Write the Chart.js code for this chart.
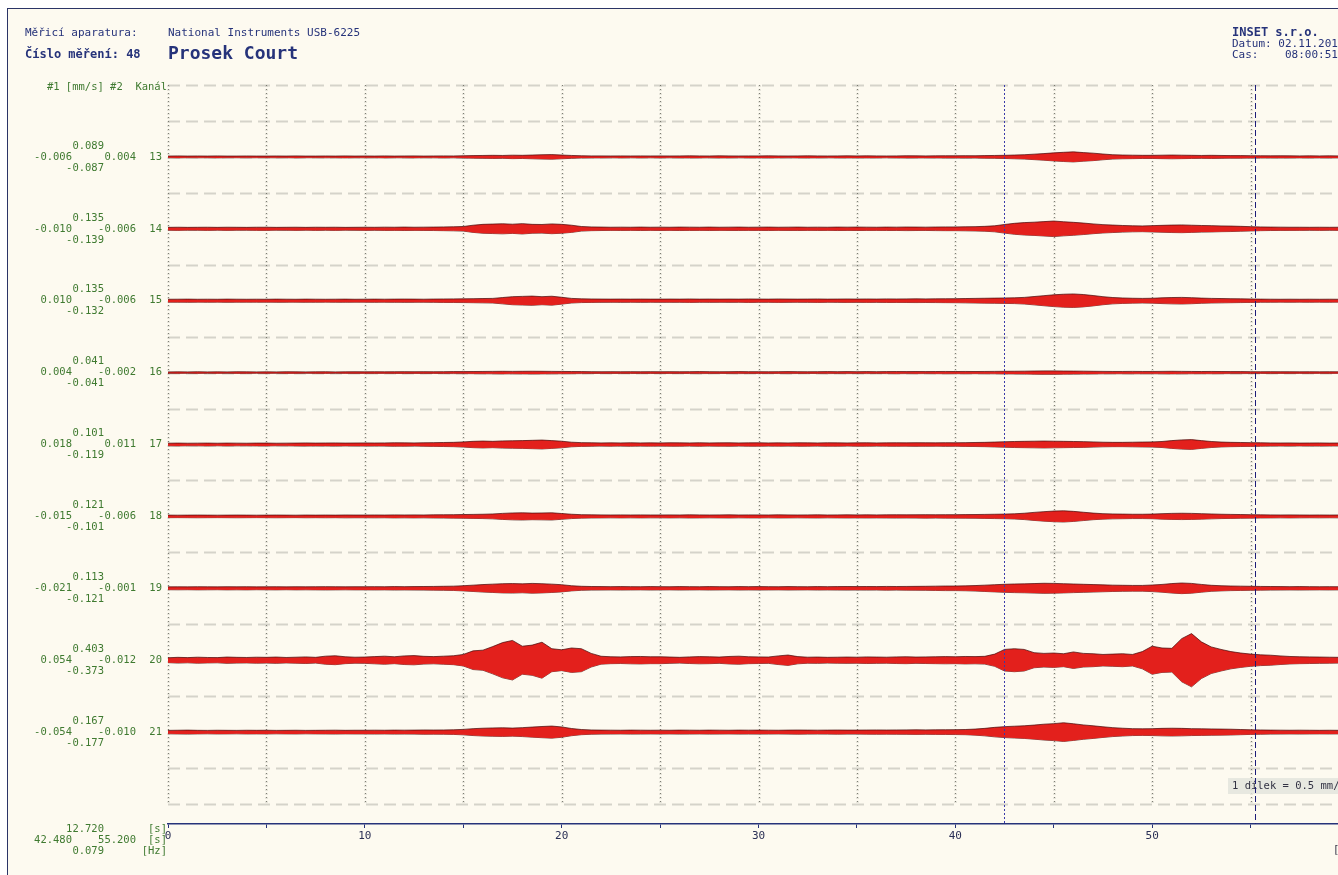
<!DOCTYPE html>
<html lang="cs">
<head>
<meta charset="utf-8">
<title>Prosek Court</title>
<script src="https://cdn.jsdelivr.net/npm/chart.js@4"></script>
<style>
  html, body { margin: 0; padding: 0; background: #fff; overflow: hidden; width: 1338px; height: 875px; }
  #sheet { position: absolute; left: 7px; top: 8px; width: 1400px; height: 900px; background: #fdfaf0;
           border-left: 1px solid #2b3466; border-top: 1px solid #2b3466; }
  #plot { position: absolute; left: 0; top: 0; }
  .t { position: absolute; white-space: pre; font-family: "DejaVu Sans Mono", monospace; font-size: 11px;
       line-height: 12px; color: #26337a; }
</style>
</head>
<body>
<div id="sheet"></div>
<canvas id="plot" width="1380" height="875"></canvas>

<div class="t" style="left:25px; top:27px;">Měřicí aparatura:</div>
<div class="t" style="left:168px; top:27px;">National Instruments USB-6225</div>
<div class="t" style="left:25px; top:48px; font-weight:bold; font-size:12px;">Číslo měření: 48</div>
<div class="t" style="left:168px; top:43px; font-weight:bold; font-size:18px; line-height:20px;">Prosek Court</div>
<div class="t" style="left:1232px; top:26px; font-weight:bold; font-size:12px;">INSET s.r.o.</div>
<div class="t" style="left:1232px; top:38px;">Datum: 02.11.2012</div>
<div class="t" style="left:1232px; top:49px;">Cas:    08:00:51</div>

<script>
// channel layout
const channels = [13, 14, 15, 16, 17, 18, 19, 20, 21];
const divisionMmS = 0.5;      // 1 dílek = 0.5 mm/s
const binStep = 0.5;          // s, envelope bins
const xMin = 0, xMax = 60;

// cursor readings
const cursorA = 42.48, cursorB = 55.2;
const cursorDiff = 12.72, cursorFreq = 0.079;

// per-channel statistics [mm/s]
const statMax    = [0.089, 0.135, 0.135, 0.041, 0.101, 0.121, 0.113, 0.403, 0.167];
const statFirst  = [-0.006, -0.010, 0.010, 0.004, 0.018, -0.015, -0.021, 0.054, -0.054];
const statSecond = [0.004, -0.006, -0.006, -0.002, 0.011, -0.006, -0.001, -0.012, -0.010];
const statMin    = [-0.087, -0.139, -0.132, -0.041, -0.119, -0.101, -0.121, -0.373, -0.177];

// signal envelope, 0.001 mm/s, one value per 0.5 s starting at 0 s
const amp13 = [
  12,14,12,13,12,14,12,12,13,12, 12,13,12,14,12,12,13,12,14,12,
  13,12,14,12,13,14,12,13,14,13, 16,18,20,22,20,24,22,26,30,32,
  26,20,16,14,14,13,14,13,14,13, 14,13,14,15,14,13,15,14,13,14,
  14,15,14,13,14,15,14,13,14,15, 14,15,14,13,14,16,15,14,15,16,
  16,17,16,18,20,22,26,30,38,46, 56,64,70,60,52,40,30,26,24,22,
  22,24,26,24,22,20,22,20,18,18, 17,16,15,16,15,14,15,14,15,14];
const amp14 = [
  20,22,20,21,22,20,22,21,20,22, 22,20,21,22,20,22,21,22,20,21,
  22,21,23,22,24,22,23,24,26,28, 32,50,62,66,70,64,72,62,60,68,
  62,50,32,26,24,22,23,22,24,22, 23,22,24,23,22,24,22,23,24,22,
  23,24,22,23,24,22,23,22,24,23, 24,23,22,24,23,25,24,23,25,26,
  26,28,30,34,42,60,76,86,92,100, 108,98,90,80,68,58,52,46,42,40,
  44,48,52,54,50,46,44,40,38,34, 30,26,24,23,22,22,21,22,21,22];
const amp15 = [
  20,21,22,20,21,20,22,21,20,21, 20,22,21,20,22,21,20,21,22,20,
  21,22,21,22,23,22,21,23,24,25, 26,28,30,32,44,56,60,64,56,62,
  48,32,26,24,23,22,23,22,23,22, 22,23,22,24,22,23,22,23,22,24,
  23,22,24,23,22,23,24,22,23,24, 23,24,23,25,24,25,26,25,26,27,
  28,30,32,34,36,38,40,46,58,70, 82,90,94,86,72,56,44,38,34,32,
  34,40,44,46,42,36,32,30,28,26, 24,22,21,20,21,20,21,20,21,20];
const amp16 = [
  10,11,10,12,10,11,10,12,11,10, 11,10,12,11,10,11,12,10,11,12,
  11,12,11,12,13,12,13,12,13,14, 14,15,16,17,18,17,18,19,18,17,
  16,15,14,13,12,13,12,13,12,13, 12,13,12,13,14,13,12,13,14,13,
  13,12,13,14,13,12,13,14,13,14, 13,14,13,14,15,14,15,14,15,16,
  15,16,15,16,17,18,19,20,22,24, 24,22,21,20,18,17,16,16,17,16,
  16,17,18,17,16,15,16,15,14,14, 13,12,13,12,12,11,12,11,12,11];
const amp17 = [
  18,20,18,19,20,18,20,19,18,20, 20,18,19,20,22,20,21,22,20,21,
  22,21,22,24,23,22,24,26,28,30, 36,44,48,44,50,52,54,58,62,54,
  46,32,26,24,22,23,22,24,22,23, 22,24,23,22,24,22,23,24,22,23,
  24,22,23,22,24,23,22,24,23,22, 23,24,22,23,24,23,25,24,23,25,
  24,26,28,30,34,38,42,44,46,48, 46,44,42,40,36,32,30,30,32,34,
  36,42,54,64,68,54,42,34,30,28, 26,24,22,21,22,20,21,22,20,21];
const amp18 = [
  18,17,18,19,18,17,18,19,18,17, 18,19,18,17,19,18,19,18,20,19,
  19,20,19,21,20,21,20,22,23,24, 26,28,30,34,42,48,50,46,48,50,
  40,30,24,22,21,20,21,20,21,20, 20,21,20,22,21,20,21,22,20,21,
  21,20,22,21,20,21,22,20,21,22, 21,22,21,22,23,22,23,24,23,24,
  24,25,26,28,30,32,36,44,56,66, 74,78,70,58,46,38,34,32,30,30,
  32,38,42,44,42,38,34,30,28,26, 24,22,21,20,21,20,19,20,19,20];
const amp19 = [
  20,21,20,22,21,20,22,21,22,20, 21,22,20,22,21,22,23,22,21,22,
  22,23,22,24,23,24,25,26,28,30, 36,44,52,58,64,66,62,68,64,58,
  50,36,28,25,24,23,24,23,22,24, 23,22,24,23,22,24,23,22,24,23,
  24,23,22,24,23,22,24,23,24,25, 24,25,24,26,25,26,27,28,30,32,
  32,34,38,44,50,56,60,62,66,70, 68,64,60,56,52,48,44,42,40,40,
  46,54,66,74,68,54,42,36,32,30, 28,26,25,24,23,24,23,22,23,22];
const amp20 = [
  34,40,36,42,38,36,44,40,38,42, 40,44,38,42,46,40,56,62,48,42,
  44,50,56,48,60,64,54,50,56,62, 80,130,140,190,245,275,195,210,250,160,
  145,170,160,95,55,48,46,50,52,48, 48,44,40,46,50,48,44,52,56,48,
  46,44,60,72,50,42,44,40,42,44, 42,46,44,42,46,48,44,46,48,50,
  48,52,50,54,85,150,160,150,105,95, 100,90,115,95,90,80,85,90,80,120,
  195,170,165,300,370,255,185,150,120,100, 85,75,70,60,52,48,46,44,42,40];
const amp21 = [
  24,26,28,25,24,26,25,24,26,25, 26,24,25,26,24,25,26,27,25,26,
  26,27,26,28,27,28,30,29,30,32, 38,48,54,58,60,56,62,70,78,84,
  72,50,36,30,28,27,26,28,27,26, 27,26,28,27,26,28,27,26,28,27,
  28,27,26,28,29,28,27,28,29,28, 28,29,30,29,30,31,32,31,32,33,
  34,36,42,52,66,76,82,88,98,110, 118,130,116,100,88,74,62,54,48,46,
  48,52,54,52,48,46,44,42,40,36, 32,30,28,27,26,27,26,25,26,25];
const amplitudes = [amp13, amp14, amp15, amp16, amp17, amp18, amp19, amp20, amp21];

// styles
const NAVY = '#26337a';
const GREEN = '#3f7a30';
const MONO = '"DejaVu Sans Mono", monospace';
const TRACE_FILL = '#e3201c';
const TRACE_EDGE = 'rgba(70,10,10,0.8)';

// baseline of each channel in grid divisions (top channel highest)
const baseOf = i => 20 - 2 * (i + 1);

const datasets = [];
channels.forEach((ch, i) => {
  const base = baseOf(i);
  const upper = amplitudes[i].map((a, j) => ({ x: j * binStep, y: base + a / 1000 / divisionMmS }));
  const lower = amplitudes[i].map((a, j) => ({ x: j * binStep, y: base - a / 1000 / divisionMmS }));
  datasets.push({ label: 'K' + ch + '+', data: upper, fill: '+1', backgroundColor: TRACE_FILL,
                  borderColor: TRACE_EDGE, borderWidth: 0.9, pointRadius: 0, tension: 0 });
  datasets.push({ label: 'K' + ch + '-', data: lower, fill: false,
                  borderColor: TRACE_EDGE, borderWidth: 0.9, pointRadius: 0, tension: 0 });
});

const fmt = v => v.toFixed(3);

const gridPlugin = {
  id: 'seisGrid',
  beforeDatasetsDraw(chart) {
    const { ctx, scales: { x, y } } = chart;
    ctx.save();
    // horizontal divisions
    ctx.strokeStyle = 'rgba(165,165,155,0.45)';
    ctx.lineWidth = 2;
    ctx.setLineDash([12, 6]);
    for (let k = 0; k <= 20; k++) {
      const py = Math.round(y.getPixelForValue(k)) + 0.5;
      ctx.beginPath(); ctx.moveTo(x.getPixelForValue(xMin), py); ctx.lineTo(x.getPixelForValue(xMax), py); ctx.stroke();
    }
    // vertical divisions every 5 s
    for (let t = xMin; t <= xMax; t += 5) {
      const px = Math.round(x.getPixelForValue(t)) + 0.5;
      ctx.strokeStyle = 'rgba(190,190,180,0.35)';
      ctx.lineWidth = 3;
      ctx.setLineDash([2, 2]);
      ctx.beginPath(); ctx.moveTo(px, y.getPixelForValue(20)); ctx.lineTo(px, y.getPixelForValue(0)); ctx.stroke();
      ctx.strokeStyle = 'rgba(100,100,90,0.8)';
      ctx.lineWidth = 1;
      ctx.setLineDash([1, 3]);
      ctx.beginPath(); ctx.moveTo(px, y.getPixelForValue(20)); ctx.lineTo(px, y.getPixelForValue(0)); ctx.stroke();
    }
    ctx.restore();
  },
  afterDraw(chart) {
    const { ctx, chartArea, scales: { x, y } } = chart;
    ctx.save();

    // channel labels and statistics
    ctx.font = '10.5px ' + MONO;
    ctx.fillStyle = GREEN;
    ctx.textBaseline = 'middle';
    ctx.textAlign = 'right';
    ctx.fillText('#1 [mm/s] #2  Kanál', 167, y.getPixelForValue(20) + 2);
    channels.forEach((ch, i) => {
      const py = y.getPixelForValue(baseOf(i));
      ctx.fillText(String(ch), 162, py);
      ctx.fillText(fmt(statFirst[i]), 72, py);
      ctx.fillText(fmt(statSecond[i]), 136, py);
      ctx.fillText(fmt(statMax[i]), 104, py - 11);
      ctx.fillText(fmt(statMin[i]), 104, py + 11);
    });
    // cursor readout
    const pb = chartArea.bottom;
    ctx.fillText(cursorDiff.toFixed(3), 104, pb + 5);
    ctx.fillText(cursorA.toFixed(3), 72, pb + 16);
    ctx.fillText(cursorB.toFixed(3), 136, pb + 16);
    ctx.fillText(cursorFreq.toFixed(3), 104, pb + 27);
    ctx.fillText('[s]', 167, pb + 5);
    ctx.fillText('[s]', 167, pb + 16);
    ctx.fillText('[Hz]', 167, pb + 27);

    // scale note
    ctx.textAlign = 'left';
    ctx.fillStyle = 'rgba(225,228,220,0.8)';
    ctx.fillRect(1228, y.getPixelForValue(0.5) - 8, 120, 16);
    ctx.fillStyle = '#333344';
    ctx.fillText('1 dílek = ' + divisionMmS + ' mm/s', 1232, y.getPixelForValue(0.5));
    ctx.fillText('[s]', 1333, pb + 26);

    // cursors
    ctx.lineWidth = 1;
    ctx.strokeStyle = '#3a3aa8';
    ctx.setLineDash([2, 2]);
    let px = Math.round(x.getPixelForValue(cursorA)) + 0.5;
    ctx.beginPath(); ctx.moveTo(px, chartArea.top); ctx.lineTo(px, chartArea.bottom); ctx.stroke();
    ctx.strokeStyle = '#1c1c78';
    ctx.setLineDash([6, 3]);
    px = Math.round(x.getPixelForValue(cursorB)) + 0.5;
    ctx.beginPath(); ctx.moveTo(px, chartArea.top); ctx.lineTo(px, chartArea.bottom); ctx.stroke();
    ctx.restore();
  }
};

new Chart(document.getElementById('plot'), {
  type: 'line',
  data: { datasets },
  options: {
    responsive: false,
    animation: false,
    events: [],
    layout: { padding: { left: 168, right: 1380 - 1349, top: 85, bottom: 0 } },
    scales: {
      x: {
        type: 'linear', min: xMin, max: xMax,
        afterFit: s => { s.height = 51; },
        grid: { drawOnChartArea: false, color: NAVY, tickLength: 4 },
        border: { color: NAVY, width: 1.5 },
        ticks: { stepSize: 5, autoSkip: false, maxRotation: 0, padding: 2, color: '#2a2f55',
                 font: { family: MONO, size: 11 },
                 callback: v => (v % 10 === 0 ? String(v) : '') }
      },
      y: { display: false, min: -0.556, max: 20 }
    },
    plugins: { legend: { display: false }, tooltip: { enabled: false } }
  },
  plugins: [gridPlugin]
});
</script>
</body>
</html>
